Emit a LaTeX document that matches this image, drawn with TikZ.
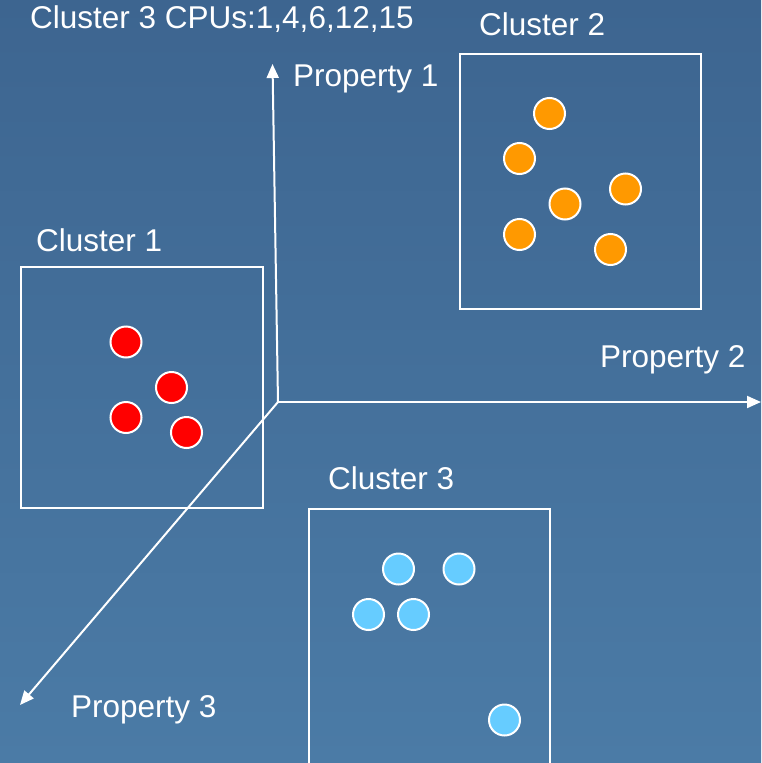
\documentclass[tikz,border=0pt]{standalone}
\usepackage{fontspec}
\setmainfont{Liberation Sans}
\usetikzlibrary{arrows.meta}
\definecolor{bgtop}{HTML}{3D6590}
\definecolor{bgbot}{HTML}{4B7BA6}
\definecolor{dotred}{HTML}{FF0000}
\definecolor{dotorange}{HTML}{FF9900}
\definecolor{dotblue}{HTML}{66CCFF}
\begin{document}
\begin{tikzpicture}[x=1pt,y=-1pt,
  lbl/.style={text=white,font=\fontsize{31.5}{36}\selectfont,anchor=base west,inner sep=0pt},
  clusterbox/.style={draw=white,line width=2pt},
  axis/.style={draw=white,line width=2pt,-{Triangle[length=14pt,width=12pt]}},
  dot/.style={circle,draw=white,line width=2pt,minimum size=31pt,inner sep=0pt},
  reddot/.style={dot,fill=dotred},
  orangedot/.style={dot,fill=dotorange},
  bluedot/.style={dot,fill=dotblue}]
\useasboundingbox (0,0) rectangle (761,763);
\shade[top color=bgtop,bottom color=bgbot] (0,0) rectangle (761,763);
% boxes
\draw[clusterbox] (20.5,267) rectangle (263,507.5);
\draw[clusterbox] (459.5,53.5) rectangle (700.5,309);
\draw[clusterbox] (308.5,508.5) rectangle (549.5,770);
% axes
\coordinate (o) at (278,402);
\coordinate (p1) at (272.5,64);
\coordinate (p2) at (761,402);
\coordinate (p3) at (20,705);
\draw[axis] (o) -- (p1);
\draw[axis] (o) -- (p2);
\draw[axis] (o) -- (p3);
% labels
\node[lbl] (title) at (30,28) {Cluster 3 CPUs:1,4,6,12,15};
\node[lbl] (l1) at (293,86) {Property 1};
\node[lbl] (l2) at (600,367) {Property 2};
\node[lbl] (l3) at (71,717) {Property 3};
\node[lbl] (c1) at (36,251.5) {Cluster 1};
\node[lbl] (c2) at (479,35) {Cluster 2};
\node[lbl] (c3) at (328,489.5) {Cluster 3};
% red
\node[reddot] (r1) at (126,342) {};
\node[reddot] (r2) at (171.5,387.5) {};
\node[reddot] (r3) at (126,417.5) {};
\node[reddot] (r4) at (186.5,432.5) {};
% orange
\node[orangedot] (o1) at (549.5,113.5) {};
\node[orangedot] (o2) at (519.5,158.5) {};
\node[orangedot] (o3) at (625.5,189) {};
\node[orangedot] (o4) at (565,204) {};
\node[orangedot] (o5) at (519.5,234.5) {};
\node[orangedot] (o6) at (610.5,249.5) {};
% blue
\node[bluedot] (b1) at (398.5,569) {};
\node[bluedot] (b2) at (459,569) {};
\node[bluedot] (b3) at (368.5,614.5) {};
\node[bluedot] (b4) at (413.5,614.5) {};
\node[bluedot] (b5) at (504.5,720) {};
\end{tikzpicture}
\end{document}
